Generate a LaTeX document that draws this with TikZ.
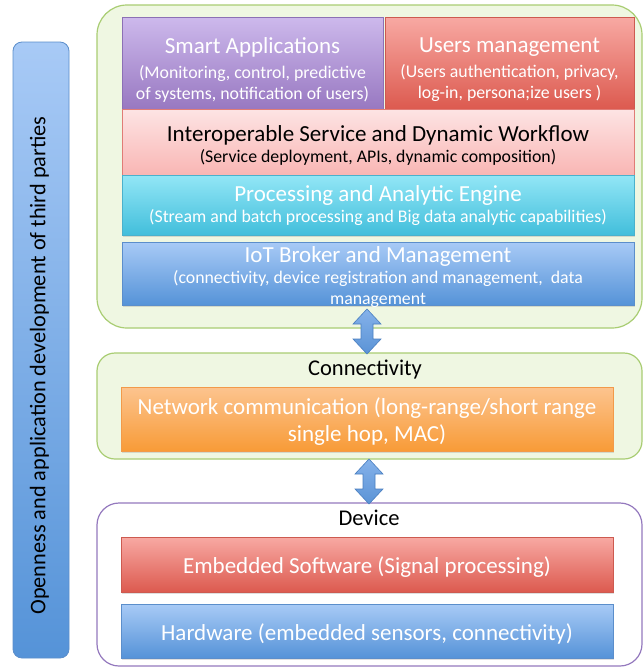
\documentclass[tikz,border=0pt]{standalone}
\usepackage{fontspec}
\setmainfont{Carlito}
\usetikzlibrary{calc,shadows}
\definecolor{grnfill}{HTML}{EFF7E2}
\definecolor{grnline}{HTML}{A9CD73}
\definecolor{devline}{HTML}{9479BE}
\definecolor{purA}{HTML}{CDB9EC}\definecolor{purB}{HTML}{9878C1}\definecolor{purL}{HTML}{8C70B5}
\definecolor{redA}{HTML}{F8A9A3}\definecolor{redB}{HTML}{DC5A4F}\definecolor{redL}{HTML}{CD5A50}
\definecolor{pnkA}{HTML}{FDE4E4}\definecolor{pnkB}{HTML}{F9B6B4}\definecolor{pnkL}{HTML}{E07C76}
\definecolor{cyaA}{HTML}{92E6F6}\definecolor{cyaB}{HTML}{41BEDB}\definecolor{cyaL}{HTML}{4AB1CC}
\definecolor{blueA}{HTML}{A8CAF6}\definecolor{blueB}{HTML}{5593D8}\definecolor{blueL}{HTML}{5B8ECB}
\definecolor{orgA}{HTML}{FCC48F}\definecolor{orgB}{HTML}{F89B37}\definecolor{orgL}{HTML}{F29A4A}
\definecolor{arrA}{HTML}{86B2EA}\definecolor{arrB}{HTML}{5A93D6}\definecolor{arrL}{HTML}{4A7FC0}
\newcommand{\ttl}{\fontsize{23}{26}\selectfont}
\newcommand{\sbt}{\fontsize{17.8}{21}\selectfont}
\tikzset{
  container/.style={draw=grnline, line width=1.2pt, fill=grnfill, rounded corners=#1},
  layer/.style={anchor=north west, outer sep=0pt, inner sep=0pt, line width=0.6pt,
     drop shadow={shadow xshift=1pt, shadow yshift=-1.5pt, opacity=0.25}},
  ltext/.style={align=center, text=white, font=\sbt, inner sep=0pt},
  blockarrow/.style={draw=arrL, line width=0.6pt, top color=arrA, bottom color=arrB, line join=miter},
  plain/.style={font=\fontsize{22.5}{25}\selectfont, text=black},
}
\begin{document}
\begin{tikzpicture}[x=1pt,y=-1pt]
\useasboundingbox (0,0) rectangle (643,667);
\fill[white] (0,0) rectangle (643,667);
% left bar
\node[anchor=north west, minimum width=56, minimum height=616, rounded corners=9pt,
  draw=blueL, line width=0.8pt, top color=blueA, bottom color=blueB, outer sep=0pt] (bar) at (13,42) {};
\node[rotate=90, font=\fontsize{22.3}{25}\selectfont, text=black] (bartxt) at (39.5,365.5)
  {Openness and application development of third parties};
% containers
\node[container=30pt, anchor=north west, minimum width=545, minimum height=323, outer sep=0pt] (top) at (97,5) {};
\node[container=18pt, anchor=north west, minimum width=545, minimum height=106, outer sep=0pt] (conn) at (97,353) {};
\node[draw=devline, line width=1.2pt, fill=white, rounded corners=22pt, anchor=north west,
  minimum width=545, minimum height=163, outer sep=0pt] (dev) at (97,503) {};
% top layers
\node[layer, draw=purL, top color=purA, bottom color=purB, minimum width=261, minimum height=92] (smart) at (122,17) {};
\node[layer, draw=redL, top color=redA, bottom color=redB, minimum width=249, minimum height=92] (users) at (385,17) {};
\node[layer, draw=pnkL, top color=pnkA, bottom color=pnkB, minimum width=512, minimum height=66] (inter) at (122,109) {};
\node[layer, draw=cyaL, top color=cyaA, bottom color=cyaB, minimum width=512, minimum height=60] (proc) at (122,175.5) {};
\node[layer, draw=blueL, top color=blueA, bottom color=blueB, minimum width=512, minimum height=63] (iot) at (122,242) {};
\node[ltext] (smartT) at ($(smart.center)+(0,7)$)
  {{\ttl Smart Applications}\\[4pt](Monitoring, control, predictive\\of systems, notification of users)};
\node[ltext] (usersT) at ($(users.center)+(0,7)$)
  {{\ttl Users management}\\[4pt](Users authentication, privacy,\\log-in, persona;ize users )};
\node[ltext, text=black] (interT) at ($(inter.center)+(0,3)$)
  {{\ttl Interoperable Service and Dynamic Workflow}\\[0pt](Service deployment, APIs, dynamic composition)};
\node[ltext] (procT) at ($(proc.center)+(0,0.5)$)
  {{\ttl Processing and Analytic Engine}\\[0pt](Stream and batch processing and Big data analytic capabilities)};
\node[ltext] (iotT) at ($(iot.center)+(0,3.5)$)
  {{\ttl IoT Broker and Management}\\[0pt](connectivity, device registration and management,~ data\\management};
% connectivity
\node[plain] (conntxt) at (365,370) {Connectivity};
\node[layer, draw=orgL, top color=orgA, bottom color=orgB, minimum width=492, minimum height=64] (net) at (121,387) {};
\node[ltext, font=\fontsize{23}{27}\selectfont] (netT) at ($(net.center)+(0,2.5)$)
  {Network communication (long-range/short range\\single hop, MAC)};
% device
\node[plain] (devtxt) at (369,518) {Device};
\node[layer, draw=redL, top color=redA, bottom color=redB, minimum width=492, minimum height=55] (emb) at (121,537) {};
\node[ltext, font=\fontsize{23}{26}\selectfont] (embT) at ($(emb.center)+(0,3)$) {Embedded Software (Signal processing)};
\node[layer, draw=blueL, top color=blueA, bottom color=blueB, minimum width=492, minimum height=54] (hw) at (121,604) {};
\node[ltext, font=\fontsize{23}{26}\selectfont] (hwT) at ($(hw.center)+(0,3)$) {Hardware (embedded sensors, connectivity)};
% arrows
\coordinate (a1s) at (367,309); \coordinate (a1e) at (367,354);
\coordinate (a2s) at (369,459); \coordinate (a2e) at (369,504);
\foreach \s/\e in {a1s/a1e, a2s/a2e}{
  \draw[blockarrow] (\s) -- ($(\s)+(14,15)$) -- ($(\s)+(6,15)$) -- ($(\e)+(6,-15)$) -- ($(\e)+(14,-15)$)
    -- (\e) -- ($(\e)+(-14,-15)$) -- ($(\e)+(-6,-15)$) -- ($(\s)+(-6,15)$) -- ($(\s)+(-14,15)$) -- cycle;
}
\end{tikzpicture}
\end{document}
